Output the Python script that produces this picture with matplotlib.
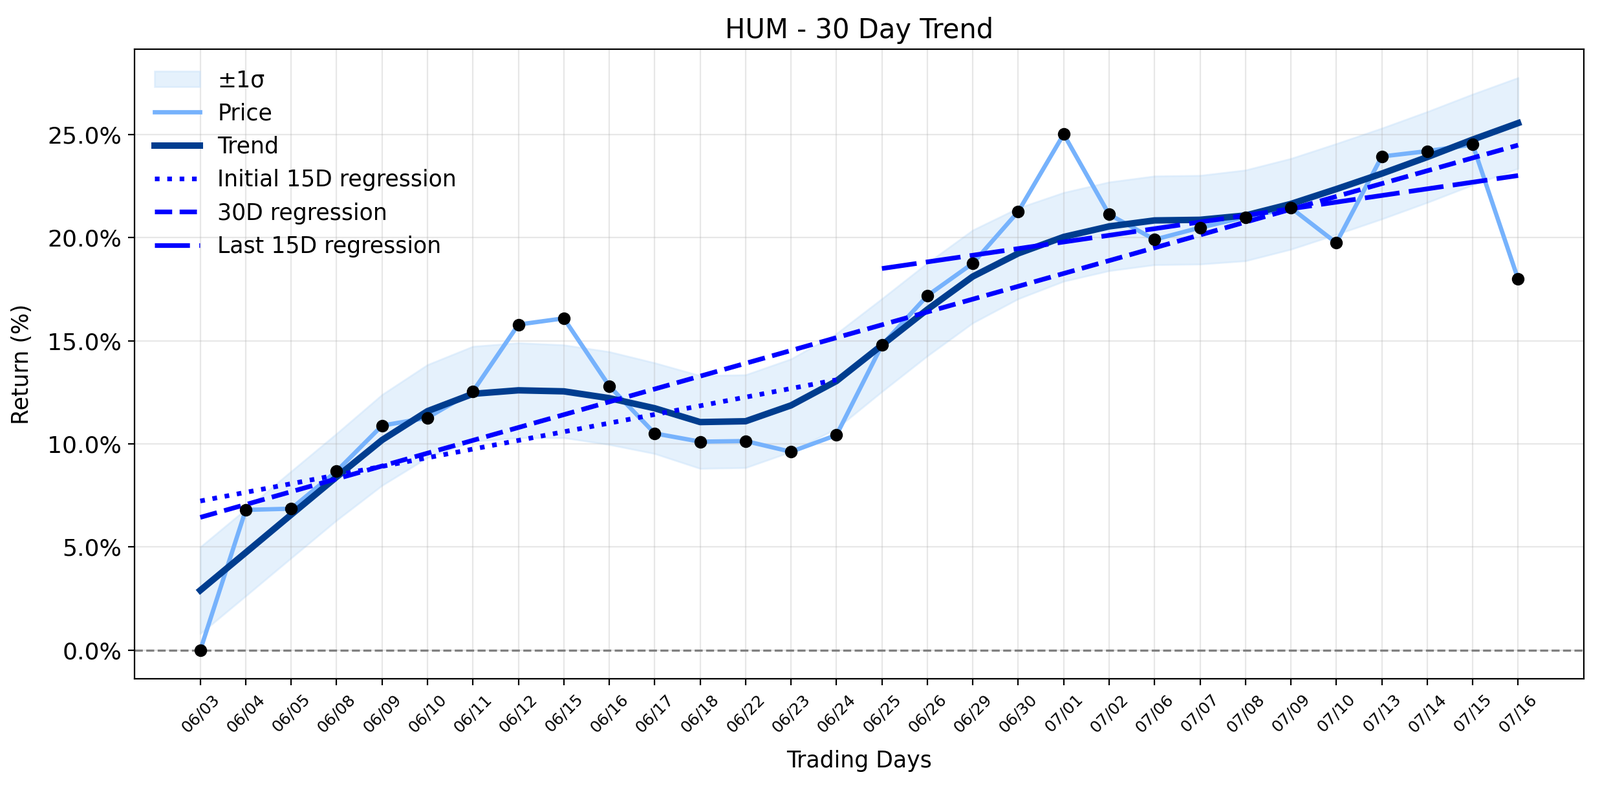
import numpy as np
import matplotlib
matplotlib.use("Agg")
import matplotlib.pyplot as plt
from matplotlib.ticker import FuncFormatter

plt.rcParams["font.size"] = 12.5

# trading days shown on the x axis
dates = ["06/03", "06/04", "06/05", "06/08", "06/09", "06/10", "06/11", "06/12",
         "06/15", "06/16", "06/17", "06/18", "06/22", "06/23", "06/24", "06/25",
         "06/26", "06/29", "06/30", "07/01", "07/02", "07/06", "07/07", "07/08",
         "07/09", "07/10", "07/13", "07/14", "07/15", "07/16"]

# cumulative return (%)
price = [0.0, 6.80, 6.86, 8.68, 10.89, 11.27, 12.55, 15.79, 16.09, 12.81,
         10.51, 10.11, 10.14, 9.62, 10.43, 14.79, 17.19, 18.76, 21.27, 25.02,
         21.13, 19.91, 20.49, 21.00, 21.45, 19.75, 23.94, 24.20, 24.52, 17.99]

# smoothed trend line
trend = [2.90, 4.73, 6.57, 8.40, 10.19, 11.59, 12.43, 12.60, 12.55, 12.22,
         11.73, 11.06, 11.10, 11.87, 13.05, 14.79, 16.52, 18.12, 19.24, 20.04,
         20.55, 20.84, 20.87, 21.08, 21.64, 22.36, 23.11, 23.91, 24.76, 25.56]

# half width of the +-1 sigma band
sigma = [2.10, 2.10, 2.10, 2.10, 2.20, 2.25, 2.30, 2.30, 2.25, 2.25,
         2.20, 2.25, 2.25, 2.25, 2.30, 2.25, 2.25, 2.25, 2.20, 2.15,
         2.15, 2.15, 2.15, 2.20, 2.20, 2.20, 2.20, 2.20, 2.20, 2.20]

x = np.arange(len(dates))
price = np.array(price)
trend = np.array(trend)
sigma = np.array(sigma)

fig = plt.figure(figsize=(12.37, 6.12), dpi=200)
ax = fig.add_subplot(111)
fig.subplots_adjust(left=0.084, right=0.99, top=0.938, bottom=0.143)

ax.fill_between(x, trend - sigma, trend + sigma, color="#cce4fb", alpha=0.5,
                label="\u00b11\u03c3")
ax.plot(x, price, color="#76b2fc", linewidth=2.4, label="Price")
ax.plot(x, trend, color="#003d8f", linewidth=3.6, label="Trend")
ax.scatter(x, price, color="black", s=36, zorder=5)

# regressions on first 15, all 30 and last 15 days
n = 15
p1 = np.polyfit(x[:n], price[:n], 1)
ax.plot(x[:n], np.polyval(p1, x[:n]), color="blue", linestyle=":", linewidth=2.6,
        label="Initial 15D regression")
p2 = np.polyfit(x, price, 1)
ax.plot(x, np.polyval(p2, x), color="blue", linestyle="--", linewidth=2.6,
        label="30D regression")
p3 = np.polyfit(x[-n:], price[-n:], 1)
ax.plot(x[-n:], np.polyval(p3, x[-n:]), color="blue", linestyle=(0, (7.5, 2)),
        linewidth=2.6, label="Last 15D regression")

ax.axhline(0, color="gray", linestyle="--", linewidth=1.2)

ax.set_xticks(x)
ax.set_xticklabels(dates, rotation=45, fontsize=9)
ax.tick_params(axis="y", labelsize=13)
ax.yaxis.set_major_formatter(FuncFormatter(lambda v, p: "{:.1f}%".format(v)))
ax.grid(True, alpha=0.3)
ax.set_title("HUM - 30 Day Trend", fontsize=15)
ax.set_xlabel("Trading Days", labelpad=8)
ax.set_ylabel("Return (%)", labelpad=8)
ax.legend(loc="upper left", frameon=False)

fig.savefig("out.png", dpi=200)
